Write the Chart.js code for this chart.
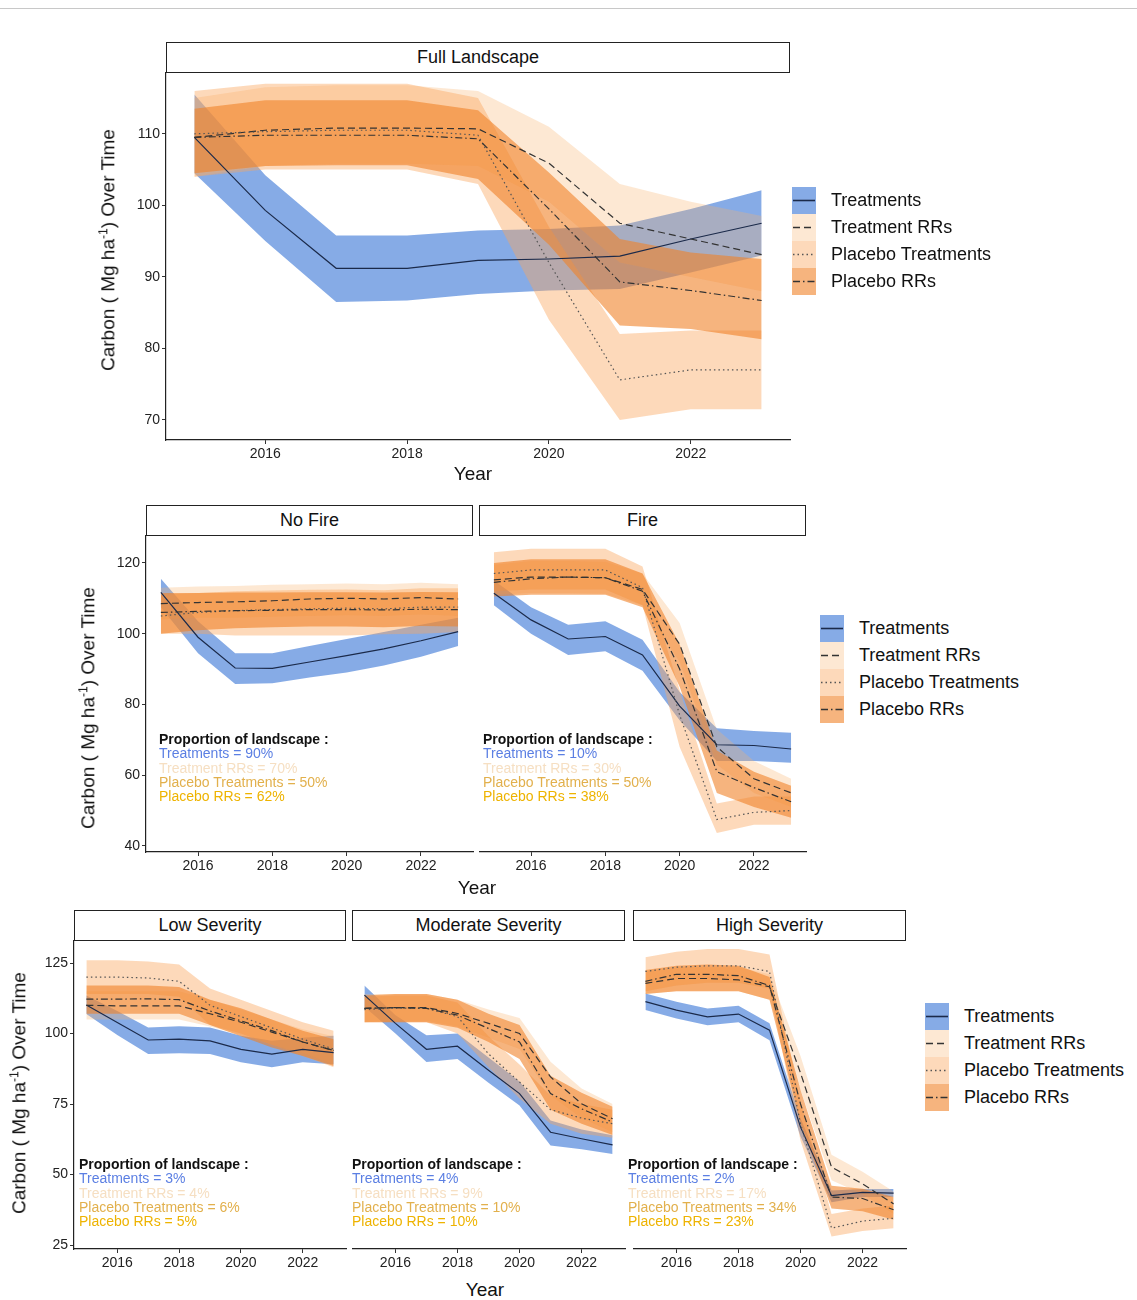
<!DOCTYPE html>
<html>
<head>
<meta charset="utf-8">
<script src="https://cdn.jsdelivr.net/npm/chart.js@4.4.0/dist/chart.umd.min.js"></script>
<style>
  body { margin: 0; background: #fff; font-family: "Liberation Sans", Arial, sans-serif; }
  #page { position: relative; width: 1137px; height: 1300px; overflow: hidden; background: #fff; }
  #topline { position: absolute; left: 0; top: 8px; width: 1137px; height: 1px; background: #c8c8c8; }
  canvas { position: absolute; }
  .strip { position: absolute; box-sizing: border-box; border: 1.5px solid #222; background: #fff;
           text-align: center; font-size: 18px; color: #111; }
  .ytitle { position: absolute; transform: translate(-50%, -50%) rotate(-90deg); font-size: 19px;
            white-space: nowrap; color: #111; }
  .ytitle sup { font-size: 12px; }
  .xtitle { position: absolute; transform: translate(-50%, -50%); font-size: 19px; color: #111; }
  .note { position: absolute; font-size: 14px; line-height: 14.3px; white-space: nowrap; }
  .note b { color: #111; }
  .legend { position: absolute; font-size: 18px; color: #111; }
  .legend .row { height: 27px; display: flex; align-items: center; }
  .legend svg { display: block; margin-right: 15px; }
</style>
</head>
<body>
<div id="page"><div id="topline"></div></div>
<script>
// ---- data ----
const years = [2015, 2016, 2017, 2018, 2019, 2020, 2021, 2022, 2023];
const yearTicks = [2016, 2018, 2020, 2022];
const seriesNames = ["Treatments", "Treatment RRs", "Placebo Treatments", "Placebo RRs"];

const ticksFull = [70, 80, 90, 100, 110];
const ticksFire = [40, 60, 80, 100, 120];
const ticksSev = [25, 50, 75, 100, 125];

// Full landscape
const full_trt = [109.5, 99.3, 91.2, 91.2, 92.3, 92.5, 92.9, 95.3, 97.5];
const full_trt_lo = [104.5, 95, 86.5, 86.7, 87.6, 88.1, 88.3, 90.6, 93];
const full_trt_hi = [115.5, 104.2, 95.8, 95.8, 96.5, 96.7, 97.2, 99.5, 102.1];
const full_trr = [109.5, 110.5, 110.8, 110.8, 110.7, 105.9, 97.5, 95.3, 93.1];
const full_trr_lo = [104, 105.5, 105.8, 105.8, 105.5, 100.5, 92, 90, 88];
const full_trr_hi = [115, 116.5, 116.8, 116.8, 116, 111, 103, 100.5, 98.5];
const full_ptr = [110, 110.3, 110.5, 110.5, 109.8, 92, 75.6, 77, 77];
const full_ptr_lo = [104, 105, 105, 105, 103, 84, 70, 71.5, 71.5];
const full_ptr_hi = [116, 117, 117, 117, 115, 97, 82, 82.5, 82.5];
const full_prr = [109.5, 109.8, 109.8, 109.8, 109.3, 99.5, 89.3, 88.1, 86.7];
const full_prr_lo = [104.5, 105.5, 105.6, 105.6, 103.7, 94.5, 83.2, 82.7, 81.3];
const full_prr_hi = [113.5, 114.7, 114.7, 114.7, 113.3, 104.6, 95.3, 93.4, 92.5];

// No fire
const nf_trt = [111.7, 99, 90.3, 90.2, 92, 93.8, 95.7, 98, 100.6];
const nf_trt_lo = [107.5, 94.5, 85.8, 86, 87.6, 89, 91, 93.5, 96.5];
const nf_trt_hi = [115.5, 103.5, 94.5, 94.5, 96.5, 98.5, 100.5, 102.5, 104.5];
const nf_trr = [108.5, 108.8, 109, 109.3, 109.8, 110, 109.8, 110.2, 109.8];
const nf_trr_lo = [104, 104.5, 104.5, 104.8, 105, 105.2, 105, 105.4, 105];
const nf_trr_hi = [113, 113.3, 113.5, 113.8, 114, 114.2, 114, 114.4, 114];
const nf_ptr = [105, 106, 106.5, 106.8, 107, 107.2, 107, 107.5, 107.5];
const nf_ptr_lo = [100, 100, 99.5, 99.5, 99.5, 99.5, 99.8, 100, 100.5];
const nf_ptr_hi = [111, 111.5, 112, 112.2, 112.4, 112.5, 112.3, 112.8, 112.8];
const nf_prr = [106, 106.3, 106.5, 106.6, 106.8, 106.8, 106.7, 106.9, 106.8];
const nf_prr_lo = [100, 101, 101.5, 101.8, 102, 102, 101.8, 102.2, 102];
const nf_prr_hi = [111.5, 111.5, 111.6, 111.6, 111.7, 111.7, 111.6, 111.8, 111.7];

// Fire
const fi_trt = [111.4, 103.9, 98.5, 99.2, 94, 79.5, 68.6, 68.4, 67.4];
const fi_trt_lo = [108, 100, 94, 95, 89.5, 75.5, 64, 64, 63.5];
const fi_trt_hi = [115, 107.5, 102.5, 103.5, 98.3, 83.5, 73.3, 72.5, 72];
const fi_trr = [115.2, 116, 116, 115.8, 112.5, 97, 68, 59, 55];
const fi_trr_lo = [111, 111.5, 111.5, 111.3, 108, 92, 63, 55, 51];
const fi_trr_hi = [119.5, 120.5, 120.5, 120.3, 117, 103, 73, 64, 59];
const fi_ptr = [117, 118, 118, 118, 113, 77, 47.5, 49.5, 50];
const fi_ptr_lo = [112, 112.5, 112.5, 112.5, 108, 68, 43.7, 46, 46];
const fi_ptr_hi = [123, 124, 124, 124, 119, 84, 52, 54, 54];
const fi_prr = [114.5, 115.5, 116, 115.8, 112, 90, 61, 56.5, 52.5];
const fi_prr_lo = [110.5, 111, 111, 111, 107.5, 85, 55, 51, 48];
const fi_prr_hi = [120, 121, 121, 121, 117, 97, 67, 61, 57];

// Low severity
const lo_trt = [110.1, 103.9, 97.7, 98, 97.4, 94.4, 92.7, 94.4, 93.2];
const lo_trt_lo = [106.9, 99.5, 92.7, 93, 92.7, 89.8, 88, 89.8, 89.1];
const lo_trt_hi = [113.5, 108, 102.1, 102.6, 102.1, 99.2, 97.4, 98.5, 99.2];
const lo_trr = [110, 109.8, 109.8, 109.8, 107, 104, 100.5, 97, 94];
const lo_trr_lo = [105, 105, 105, 105, 102.5, 99.5, 96, 93, 89];
const lo_trr_hi = [115, 115, 115, 115, 112, 108.5, 105, 101.5, 99];
const lo_ptr = [120, 120, 119.7, 118.5, 110, 106, 102, 98, 94.5];
const lo_ptr_lo = [114, 114, 114, 113, 103, 100, 96, 92, 88];
const lo_ptr_hi = [126, 126, 125.5, 124.5, 116, 112, 108, 104, 101];
const lo_prr = [112.2, 112.2, 112.3, 112, 108, 104.5, 101, 97, 94];
const lo_prr_lo = [107, 107, 107, 107, 103, 99, 95, 92, 88.5];
const lo_prr_hi = [117, 117, 117, 116.5, 112, 109, 105, 101, 98];

// Moderate severity
const md_trt = [113.6, 103.6, 94.4, 95.5, 87, 78.7, 65, 62.7, 60.5];
const md_trt_lo = [109.5, 100, 89.9, 91, 82.5, 74.5, 60.3, 59, 57.3];
const md_trt_hi = [117, 106.5, 99.4, 100, 91.5, 83, 69.2, 66, 63.9];
const md_trr = [108.9, 109.2, 109.2, 107.1, 103.6, 100, 84.6, 75.1, 69.8];
const md_trr_lo = [104, 104.5, 104.5, 102.5, 98.5, 94.5, 78, 70, 65];
const md_trr_hi = [114, 114, 114, 112, 108.5, 105.5, 90, 80.5, 75];
const md_ptr = [108.5, 109, 109, 106, 92.8, 82.8, 73, 70, 68];
const md_ptr_lo = [104, 104, 104, 100, 88, 77, 68, 64.5, 63];
const md_ptr_hi = [113, 113.5, 113.5, 111, 99, 89, 78, 75, 73];
const md_prr = [108.9, 109.2, 108.9, 106.5, 101.8, 97, 78.7, 73.3, 68.6];
const md_prr_lo = [104, 104, 104, 102, 97, 91, 73, 68, 64];
const md_prr_hi = [113.5, 114, 114, 112, 107, 103, 85, 79, 74];

// High severity
const hs_trt = [111.3, 108.3, 105.9, 106.9, 101.2, 66.8, 42.5, 43.7, 43.4];
const hs_trt_lo = [108.3, 105.3, 102.9, 104, 97.6, 63.5, 40.2, 42, 42];
const hs_trt_hi = [114.2, 111.3, 108.9, 109.8, 103.6, 70, 44.3, 44.9, 44.9];
const hs_trr = [117.8, 119.5, 119.5, 119, 116.6, 86, 52.6, 46.7, 39.6];
const hs_trr_lo = [114, 115, 115, 115, 112, 80, 48, 43, 36];
const hs_trr_hi = [122, 123.5, 123.5, 123.5, 121, 92, 57, 51, 44];
const hs_ptr = [122, 123.5, 124, 124, 122, 68, 31, 33.5, 34.5];
const hs_ptr_lo = [115, 117, 118, 118, 116, 62, 28, 30, 31];
const hs_ptr_hi = [127, 129, 130, 130, 128, 76, 36, 38, 39];
const hs_prr = [118.5, 121, 121, 120.5, 117, 75, 42, 41.5, 37.5];
const hs_prr_lo = [114, 115, 115, 115, 112, 68, 38, 37, 34];
const hs_prr_hi = [122.5, 124, 124.5, 124, 120, 80, 46, 45, 42];

// proportion of landscape labels
const nfShares = ["90%", "70%", "50%", "62%"];
const fiShares = ["10%", "30%", "50%", "38%"];
const loShares = ["3%", "4%", "6%", "5%"];
const mdShares = ["4%", "9%", "10%", "10%"];
const hsShares = ["2%", "17%", "34%", "23%"];

// ---- styles ----
const bandColors = ["rgba(60,120,215,0.62)", "rgba(250,180,110,0.3)", "rgba(250,165,90,0.42)", "rgba(240,130,40,0.6)"];
const lineColors = ["#1b2a4a", "#333333", "#555555", "#333333"];
const lineDash = [[], [7, 4], [1.5, 3], [7, 3, 1.5, 3]];
const noteColors = ["#5b7fe3", "#f6dfc2", "#e2b04c", "#eeb300"];

Chart.defaults.font.family = "'Liberation Sans', Arial, sans-serif";

const page = document.getElementById("page");

function pts(arr) {
  return years.map((x, i) => ({ x: x, y: arr[i] }));
}

function addDiv(cls, css, html) {
  const d = document.createElement("div");
  d.className = cls;
  Object.assign(d.style, css);
  d.innerHTML = html;
  page.appendChild(d);
  return d;
}

function makePanel(p) {
  const padT = 12, padR = 6, xH = 28;
  const yW = p.showY ? 48 : 0;
  const left = p.box.l - yW, top = p.box.t - padT;
  const w = p.box.r - left + padR, h = p.box.b - top + xH;

  addDiv("strip", { left: p.box.l + "px", top: (p.box.t - 31) + "px", width: (p.box.r - p.box.l) + "px",
                    height: "31px", lineHeight: "28px" }, p.title);

  const c = document.createElement("canvas");
  c.width = w; c.height = h;
  Object.assign(c.style, { left: left + "px", top: top + "px", width: w + "px", height: h + "px" });
  page.appendChild(c);

  // last dataset in the array is painted first, so Treatments go last
  const datasets = [];
  for (let k = 3; k >= 0; k--) {
    const s = p.series[k];
    datasets.push({ data: pts(s[1]), borderWidth: 0, pointRadius: 0, fill: false });
    datasets.push({ data: pts(s[2]), borderWidth: 0, pointRadius: 0, fill: "-1", backgroundColor: bandColors[k] });
    datasets.push({ data: pts(s[0]), borderWidth: 1.2, pointRadius: 0, fill: false,
                    borderColor: lineColors[k], borderDash: lineDash[k] });
  }

  new Chart(c.getContext("2d"), {
    type: "line",
    data: { datasets: datasets },
    options: {
      responsive: false,
      animation: false,
      devicePixelRatio: 1,
      layout: { padding: { top: padT, right: padR, left: 0, bottom: 0 } },
      elements: { line: { tension: 0 } },
      plugins: {
        legend: { display: false },
        tooltip: { enabled: false },
        filler: { drawTime: "beforeDatasetsDraw" }
      },
      scales: {
        x: {
          type: "linear", min: 2014.6, max: 2023.4,
          afterBuildTicks: s => { s.ticks = yearTicks.map(v => ({ value: v })); },
          afterFit: s => { s.height = xH; },
          grid: { drawOnChartArea: false, tickLength: 4, color: "#333" },
          border: { color: "#222", width: 1.2 },
          ticks: { color: "#222", font: { size: 14 }, padding: 2, maxRotation: 0, autoSkip: false,
                   callback: v => String(v) }
        },
        y: {
          display: p.showY, min: p.yMin, max: p.yMax,
          afterBuildTicks: s => { s.ticks = p.yTicks.map(v => ({ value: v })); },
          afterFit: s => { s.width = yW; },
          grid: { drawOnChartArea: false, tickLength: 4, color: "#333" },
          border: { color: "#222", width: 1.2 },
          ticks: { color: "#222", font: { size: 14 }, padding: 2, callback: v => String(v) }
        }
      }
    }
  });

  if (p.shares) {
    let html = "<b>Proportion of landscape :</b>";
    for (let k = 0; k < 4; k++) {
      html += "<br><span style='color:" + noteColors[k] + "'>" + seriesNames[k] + " = " + p.shares[k] + "</span>";
    }
    addDiv("note", { left: p.note[0] + "px", top: p.note[1] + "px" }, html);
  }
}

function keySvg(k) {
  const dash = lineDash[k].length ? " stroke-dasharray='" + lineDash[k].join(",") + "'" : "";
  return "<svg width='24' height='27'><rect x='0' y='0' width='24' height='27' fill='" + bandColors[k] + "'/>" +
         "<line x1='1' y1='13.5' x2='23' y2='13.5' stroke='" + lineColors[k] + "' stroke-width='1.6'" + dash + "/></svg>";
}

function makeLegend(x, y) {
  let html = "";
  for (let k = 0; k < 4; k++) {
    html += "<div class='row'>" + keySvg(k) + "<span>" + seriesNames[k] + "</span></div>";
  }
  addDiv("legend", { left: x + "px", top: y + "px" }, html);
}

const yTitle = "Carbon ( Mg ha<sup>-1</sup>) Over Time";

// row 1
makePanel({ title: "Full Landscape", box: { l: 166, t: 73, r: 790, b: 440 }, yMin: 67.2, yMax: 118.5,
            yTicks: ticksFull, showY: true,
            series: [[full_trt, full_trt_lo, full_trt_hi], [full_trr, full_trr_lo, full_trr_hi],
                     [full_ptr, full_ptr_lo, full_ptr_hi], [full_prr, full_prr_lo, full_prr_hi]] });
addDiv("ytitle", { left: "108px", top: "250px" }, yTitle);
addDiv("xtitle", { left: "473px", top: "474px" }, "Year");
makeLegend(792, 187);

// row 2
makePanel({ title: "No Fire", box: { l: 146, t: 536, r: 473, b: 852 }, yMin: 38.3, yMax: 127.6,
            yTicks: ticksFire, showY: true, shares: nfShares, note: [159, 732],
            series: [[nf_trt, nf_trt_lo, nf_trt_hi], [nf_trr, nf_trr_lo, nf_trr_hi],
                     [nf_ptr, nf_ptr_lo, nf_ptr_hi], [nf_prr, nf_prr_lo, nf_prr_hi]] });
makePanel({ title: "Fire", box: { l: 479, t: 536, r: 806, b: 852 }, yMin: 38.3, yMax: 127.6,
            yTicks: ticksFire, showY: false, shares: fiShares, note: [483, 732],
            series: [[fi_trt, fi_trt_lo, fi_trt_hi], [fi_trr, fi_trr_lo, fi_trr_hi],
                     [fi_ptr, fi_ptr_lo, fi_ptr_hi], [fi_prr, fi_prr_lo, fi_prr_hi]] });
addDiv("ytitle", { left: "88px", top: "708px" }, yTitle);
addDiv("xtitle", { left: "477px", top: "888px" }, "Year");
makeLegend(820, 615);

// row 3
makePanel({ title: "Low Severity", box: { l: 74, t: 941, r: 346, b: 1249 }, yMin: 23.6, yMax: 132.8,
            yTicks: ticksSev, showY: true, shares: loShares, note: [79, 1157],
            series: [[lo_trt, lo_trt_lo, lo_trt_hi], [lo_trr, lo_trr_lo, lo_trr_hi],
                     [lo_ptr, lo_ptr_lo, lo_ptr_hi], [lo_prr, lo_prr_lo, lo_prr_hi]] });
makePanel({ title: "Moderate Severity", box: { l: 352, t: 941, r: 625, b: 1249 }, yMin: 23.6, yMax: 132.8,
            yTicks: ticksSev, showY: false, shares: mdShares, note: [352, 1157],
            series: [[md_trt, md_trt_lo, md_trt_hi], [md_trr, md_trr_lo, md_trr_hi],
                     [md_ptr, md_ptr_lo, md_ptr_hi], [md_prr, md_prr_lo, md_prr_hi]] });
makePanel({ title: "High Severity", box: { l: 633, t: 941, r: 906, b: 1249 }, yMin: 23.6, yMax: 132.8,
            yTicks: ticksSev, showY: false, shares: hsShares, note: [628, 1157],
            series: [[hs_trt, hs_trt_lo, hs_trt_hi], [hs_trr, hs_trr_lo, hs_trr_hi],
                     [hs_ptr, hs_ptr_lo, hs_ptr_hi], [hs_prr, hs_prr_lo, hs_prr_hi]] });
addDiv("ytitle", { left: "19px", top: "1093px" }, yTitle);
addDiv("xtitle", { left: "485px", top: "1290px" }, "Year");
makeLegend(925, 1003);
</script>
</body>
</html>
